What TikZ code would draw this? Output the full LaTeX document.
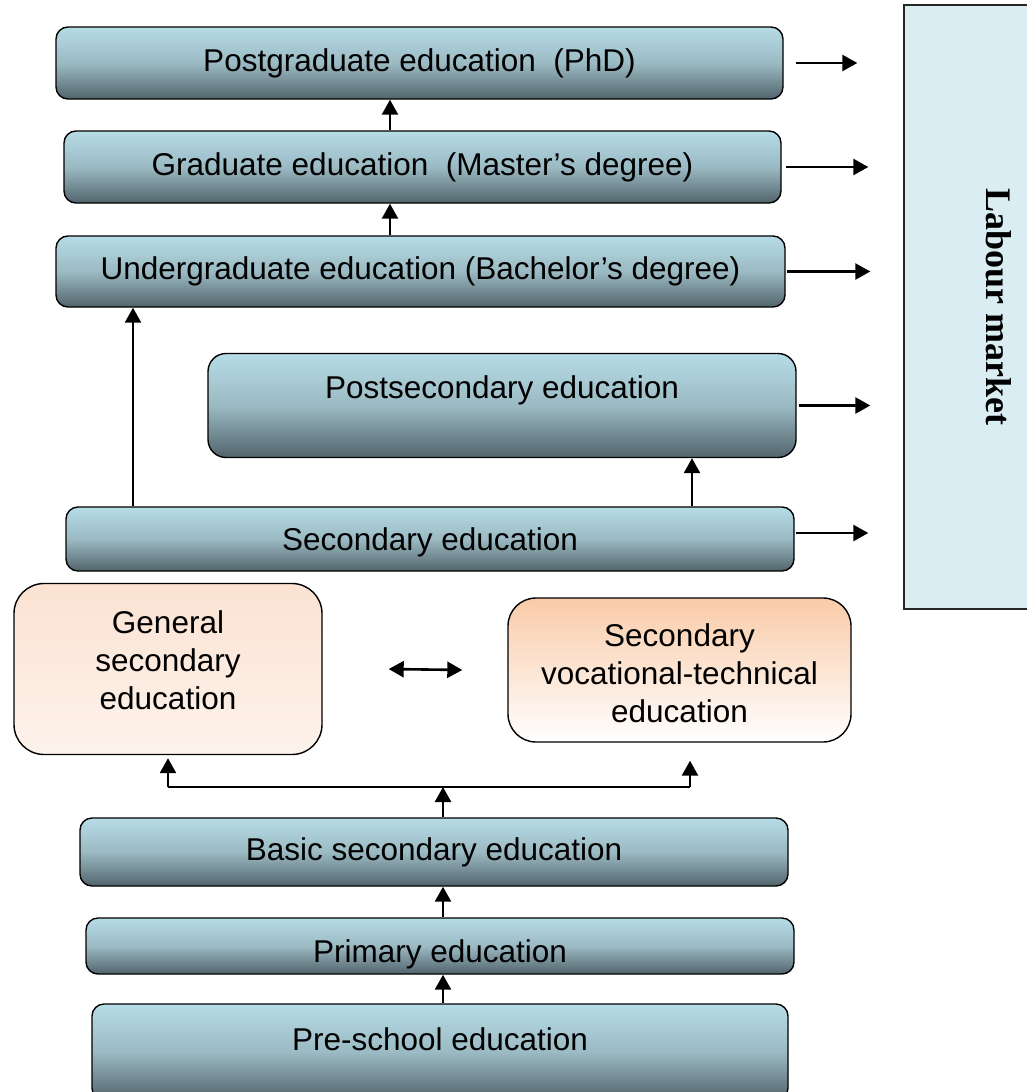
\documentclass[tikz,border=0pt]{standalone}
\usepackage{fontspec}
\setmainfont{Liberation Sans}
\newfontfamily\labourfont{Liberation Serif}
\usetikzlibrary{arrows.meta,positioning,calc}

\definecolor{blueTop}{HTML}{B6DCE6}
\definecolor{blueMid}{HTML}{9BBAC3}
\definecolor{blueBot}{HTML}{52646C}
\definecolor{genTop}{HTML}{FBE2D2}
\definecolor{genBot}{HTML}{FDF3EC}
\definecolor{vocTop}{HTML}{F9CBA8}
\definecolor{vocBot}{HTML}{FFFFFF}
\definecolor{labourFill}{HTML}{DAEDF3}

\begin{document}
\begin{tikzpicture}[x=1pt, y=-1pt,
                    stage/.style = {draw, line width=1.4pt, rounded corners=12pt,
                                    top color=blueTop, bottom color=blueBot, middle color=blueMid,
                                    inner sep=0pt, minimum height=72pt,
                                    text height=23pt, text depth=7pt,
                                    font=\fontsize{31.5}{38}\selectfont},
                    track/.style = {draw, line width=1.4pt, rounded corners=30pt, inner sep=0pt,
                                    font=\fontsize{31.5}{38}\selectfont},
                    flow/.style = {line width=2.6pt, -{Triangle[length=15pt, width=16pt]}},
                    dflow/.style = {line width=2.6pt, {Triangle[length=15pt, width=16pt]}-{Triangle[length=15pt, width=16pt]}}
                ]

                \useasboundingbox (0,0) rectangle (1027,1092);

                % labour market
                \node[draw=black!85, line width=1.4pt, fill=labourFill, inner sep=0pt,
                      minimum width=190pt, minimum height=604pt] (labour) at (999,307)
                      {\rotatebox{-90}{\fontsize{36}{40}\labourfont\bfseries Labour market}};

                % higher levels
                \node[stage, minimum width=727pt] (phd) at (419.5,63) {Postgraduate education\ \ (PhD)};
                \node[stage, minimum width=717pt] (master) at (422.5,167) {Graduate education\ \ (Master’s degree)};
                \node[stage, minimum width=729pt, minimum height=71pt] (bachelor) at (420.5,271.5) {Undergraduate education (Bachelor’s degree)};
                \node[stage, minimum width=588pt, minimum height=104pt, rounded corners=18pt, text depth=37pt] (postsec) at (502,405.5) {Postsecondary education};
                \node[stage, minimum width=728pt, minimum height=64pt, text depth=0pt] (secondary) at (430,539) {Secondary education};

                % two tracks
                \node[track, top color=genTop, bottom color=genBot, minimum width=308pt, minimum height=171pt] (general) at (168,669)
                    {\begin{tabular}{@{}c@{}}General\\secondary\\education\\[10.6pt]\end{tabular}};
                \node[track, top color=vocTop, bottom color=vocBot, minimum width=343pt, minimum height=144pt, rounded corners=28pt] (vocational) at (679.5,670)
                    {\begin{tabular}{@{}c@{}}\rule{0pt}{40pt}Secondary\\vocational-technical\\education\end{tabular}};

                % lower levels
                \node[stage, minimum width=708pt, minimum height=68pt] (basic) at (434,852) {Basic secondary education};
                \node[stage, minimum width=708pt, minimum height=56pt, text height=33pt, text depth=0pt] (primary) at (440,946) {Primary education};
                \node[stage, minimum width=696pt, minimum height=96pt, text depth=26pt] (preschool) at (440,1052) {Pre-school education};

                % upward arrows
                \draw[flow] ([xshift=3pt]preschool.north) -- ([xshift=3pt]preschool.north |- primary.south);
                \draw[flow] ([xshift=3pt]primary.north) -- ([xshift=3pt]primary.north |- basic.south);

                \coordinate (split) at (443,787);
                \coordinate (gfoot) at (general.south |- split);
                \coordinate (vfoot) at (690,787);
                \draw[flow] (basic.north -| split) -- (split);
                \draw[line width=2.2pt] (gfoot) -- (vfoot);
                \draw[flow] (gfoot) -- ([yshift=-3pt]general.south);
                \draw[flow] (vfoot) -- ([yshift=-18pt]vocational.south -| vfoot);

                \draw[dflow] ([xshift=66pt]general.east) -- ([xshift=-45pt]vocational.west);

                \draw[flow] ([xshift=-297pt]secondary.north) -- ([xshift=-297pt]secondary.north |- bachelor.south);
                \draw[flow] ([xshift=262pt]secondary.north) -- ([xshift=262pt]secondary.north |- postsec.south);
                \draw[flow] ([xshift=-30.5pt]bachelor.north) -- ([xshift=-30.5pt]bachelor.north |- master.south);
                \draw[flow] ([xshift=-32.5pt]master.north) -- ([xshift=-32.5pt]master.north |- phd.south);

                % arrows to the labour market
                \foreach \n/\s/\e/\u in {phd/12/46/0, master/4/35/0, bachelor/1/33/0, postsec/2/33/0, secondary/1/35/6}
                    \draw[flow] ([xshift=\s pt, yshift=\u pt]\n.east) -- ([xshift=-\e pt, yshift=\u pt]\n.east -| labour.west);

            \end{tikzpicture}
\end{document}
